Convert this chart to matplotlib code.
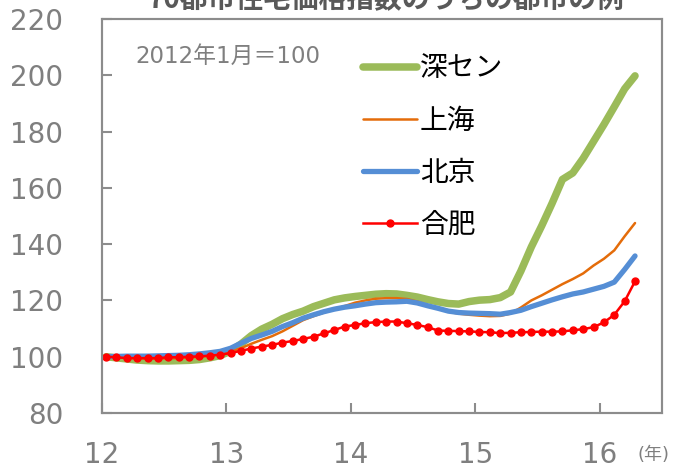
import numpy as np
import matplotlib
matplotlib.use("Agg")
import matplotlib.pyplot as plt
from matplotlib.patches import Rectangle

plt.rcParams['font.family'] = ['DejaVu Sans', 'Noto Sans CJK JP']

# monthly index, 2012/1 .. 2016/4 (2012/1 = 100)
shenzhen = [100.0, 99.6, 99.2, 98.8, 98.6, 98.5, 98.5, 98.6, 98.7, 99.0, 99.6, 100.4,
            102.0, 104.5, 107.5, 109.8, 111.5, 113.5, 115.0, 116.2, 117.8, 119.0, 120.2, 120.9,
            121.4, 121.8, 122.2, 122.4, 122.3, 121.8, 121.2, 120.3, 119.5, 118.9, 118.7, 119.6,
            120.1, 120.3, 121.0, 123.0, 130.5, 139.0, 146.5, 154.5, 163.0, 165.3, 170.5, 176.5,
            182.5, 188.8, 195.2, 199.8]
shanghai = [100.0, 99.8, 99.6, 99.4, 99.3, 99.3, 99.4, 99.5, 99.7, 100.0, 100.4, 101.0,
            102.0, 103.0, 104.6, 106.0, 107.3, 109.0, 111.0, 113.0, 114.4, 115.7, 116.9, 118.0,
            119.2, 120.0, 120.6, 120.8, 120.8, 120.5, 119.6, 118.4, 117.2, 116.0, 115.3, 114.9,
            114.6, 114.4, 114.5, 115.3, 117.5, 120.0, 121.8, 123.8, 125.8, 127.6, 129.6, 132.4,
            134.8, 137.8, 142.8, 147.5]
beijing = [100.0, 100.1, 100.2, 100.2, 100.2, 100.3, 100.4, 100.5, 100.7, 101.0, 101.4, 101.9,
           103.0, 104.8, 106.5, 107.7, 109.0, 110.7, 112.1, 113.7, 114.9, 116.0, 116.9, 117.6,
           118.1, 118.7, 119.2, 119.4, 119.5, 119.7, 119.1, 118.1, 117.2, 116.2, 115.7, 115.5,
           115.4, 115.3, 115.1, 115.7, 116.5, 117.8, 119.0, 120.2, 121.3, 122.3, 123.0, 124.0,
           125.0, 126.5, 131.0, 135.8]
hefei = [100.0, 99.8, 99.5, 99.5, 99.5, 99.5, 99.8, 99.8, 100.0, 100.1, 100.4, 100.7,
         101.3, 102.1, 102.9, 103.6, 104.2, 105.0, 105.6, 106.3, 107.1, 108.3, 109.5, 110.7,
         111.3, 111.9, 112.3, 112.5, 112.5, 111.9, 111.3, 110.5, 109.3, 109.2, 109.1, 109.0,
         108.8, 108.7, 108.4, 108.5, 108.7, 108.8, 108.9, 108.9, 109.0, 109.4, 109.8, 110.5,
         112.2, 114.9, 119.7, 126.8]

x = 12 + (np.arange(len(hefei)) + 0.4) / 12
year_ticks = [12, 13, 14, 15, 16]
y_ticks = list(range(80, 221, 20))

grey = '#7f7f7f'
fig = plt.figure(figsize=(6.78, 4.69), dpi=100)
ax = fig.add_axes([0.1504, 0.1194, 0.826, 0.8401])

ax.plot(x, shenzhen, color='#9BBB59', lw=5.4, solid_capstyle='round', label='深セン')
ax.plot(x, shanghai, color='#E46C0A', lw=1.8, solid_capstyle='round', label='上海')
ax.plot(x, beijing, color='#558ED5', lw=3.8, solid_capstyle='round', label='北京')
ax.plot(x, hefei, color='#FF0000', lw=1.8, marker='o', ms=5, label='合肥')

ax.set_xlim(12, 16.5)
ax.set_ylim(80, 220)
ax.set_xticks(year_ticks)
ax.set_xticklabels([str(t) for t in year_ticks])
ax.set_yticks(y_ticks)

for s in ax.spines.values():
    s.set_color('#8c8c8c')
    s.set_linewidth(1.5)
# plot-area frame
ax.add_patch(Rectangle((0, 0), 1, 1, transform=ax.transAxes, fill=False,
                       edgecolor='#8c8c8c', lw=1.5, clip_on=False, zorder=5))
ax.tick_params(axis='both', direction='in', length=7, width=1.5, color='#8c8c8c',
               labelcolor=grey, labelsize=20)
ax.tick_params(axis='y', pad=28)
ax.tick_params(axis='x', pad=20)

ax.text(0.06, 0.905, '2012年1月＝100', transform=ax.transAxes, color=grey,
        fontsize=16.5, va='center', ha='left')
ax.text(0.985, -0.107, '(年)', transform=ax.transAxes, color=grey,
        fontsize=13, va='center', ha='center')

leg = ax.legend(loc='upper left', bbox_to_anchor=(0.441, 0.948), frameon=False,
                prop={'family': 'Noto Sans CJK JP', 'size': 20},
                borderpad=0, handlelength=1.95, handletextpad=0.1, labelspacing=0.8)

fig.text(0.57, 0.983, '70都市住宅価格指数のうちの都市の例', ha='center', va='baseline',
         color='#595959', fontsize=20, fontweight='bold', family='Noto Sans CJK JP')

fig.savefig('out.png', dpi=100)
